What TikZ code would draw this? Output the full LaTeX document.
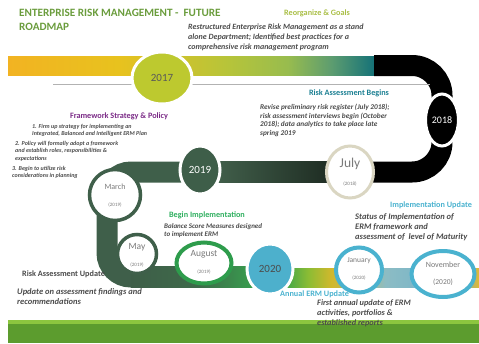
\documentclass[tikz,border=0pt]{standalone}
\usepackage{fontspec}
\setmainfont{Carlito}
\usetikzlibrary{shapes.geometric}
\definecolor{titlegreen}{HTML}{6A9C3C}
\definecolor{reorg}{HTML}{A9BE45}
\definecolor{rabteal}{HTML}{1B7F92}
\definecolor{fwpurple}{HTML}{7A2A86}
\definecolor{bigreen}{HTML}{2FAF5F}
\definecolor{ltblue}{HTML}{4AB2CF}
\definecolor{bodygray}{HTML}{4A4A4A}
\definecolor{dkgreen}{HTML}{3F5F4A}
\definecolor{c2017}{HTML}{BDC92F}
\definecolor{c2019}{HTML}{3E5E49}
\definecolor{c2020}{HTML}{4DB0CC}
\definecolor{julyring}{HTML}{DAD6C2}
\definecolor{augring}{HTML}{2E9C4C}
\definecolor{monthgray}{HTML}{7A7A7A}
\definecolor{tbA}{HTML}{F2B322}
\definecolor{tbB}{HTML}{E8C21E}
\definecolor{tbC}{HTML}{B6C43A}
\definecolor{tbD}{HTML}{98BC4E}
\definecolor{tbE}{HTML}{5C9C70}
\definecolor{tbF}{HTML}{127078}
\definecolor{mgA}{HTML}{466650}
\definecolor{mgB}{HTML}{1A261E}
\definecolor{blA}{HTML}{3E5E48}
\definecolor{blB}{HTML}{3E6A4A}
\definecolor{blC}{HTML}{38A04E}
\definecolor{brA}{HTML}{40A64A}
\definecolor{brB}{HTML}{8CBC34}
\definecolor{brC}{HTML}{D2B82C}
\definecolor{brD}{HTML}{8CBCC4}
\definecolor{brE}{HTML}{6AB0CC}
\definecolor{brF}{HTML}{E4B830}
\definecolor{barDark}{HTML}{5C9C2E}
\definecolor{barLight}{HTML}{8CC63F}
\pgfdeclarehorizontalshading{topband}{100bp}{color(0bp)=(tbA); color(25bp)=(tbA); color(40bp)=(tbB); color(55bp)=(tbC); color(63bp)=(tbD); color(69bp)=(tbE); color(75bp)=(tbF); color(100bp)=(tbF)}
\pgfdeclarehorizontalshading{botleft}{100bp}{color(0bp)=(blA); color(25bp)=(blA); color(52bp)=(blB); color(75bp)=(blC); color(100bp)=(blC)}
\pgfdeclarehorizontalshading{botright}{100bp}{color(0bp)=(brA); color(25bp)=(brA); color(31bp)=(brB); color(37bp)=(brC); color(51bp)=(brD); color(70bp)=(brE); color(75bp)=(brF); color(100bp)=(brF)}
\newcommand\fsz[2]{\fontsize{#1}{#2}\selectfont}
\tikzset{
  headtxt/.style={inner sep=0pt, font=\bfseries\fsz{8.2}{9.5}},
  bodytxt/.style={anchor=north west, inner sep=0pt, align=left, text=bodygray},
  yearc/.style={ellipse, draw=white, line width=3pt, inner sep=0pt},
  monthc/.style={ellipse, fill=white, inner sep=0pt},
  mtxt/.style={inner sep=0pt, text=monthgray},
}
\begin{document}
\begin{tikzpicture}[x=1pt,y=-1pt]
\useasboundingbox (0,0) rectangle (479,343);
% top band
\shade[shading=topband] (8,56) rectangle (376,75);
\draw[line width=21pt, black, rounded corners=30pt] (374,65.5) -- (442,65.5) -- (442,172) -- (340,172);
\draw[black!30, line width=0.8pt] (53,84) -- (430,84);
% middle dark green band
\draw[line width=21pt, dkgreen, rounded corners=24pt] (205,172) -- (107,172) -- (107,277) -- (200,277);
\shade[left color=mgA, right color=mgB] (200,161.5) rectangle (345,182.5);
\shade[shading=botleft] (131,266.5) rectangle (255,287.5);
\shade[shading=botright] (285,268.5) rectangle (479,287.5);
% bottom bar
\fill[barDark] (8,322) rectangle (479,343);
\fill[barLight] (8,320) rectangle (479,324);
% circles
\node[yearc, fill=c2017, minimum width=60pt, minimum height=52pt, text=black!65, font=\fsz{11}{12}] (y2017) at (162,78) {2017};
\node[yearc, fill=black, minimum width=33pt, minimum height=52pt, text=white, font=\fsz{10}{11}] (y2018) at (442,120) {2018};
\node[monthc, draw=julyring, line width=3pt, minimum width=47pt, minimum height=52pt] (jul) at (350,172) {};
\node[mtxt, font=\fsz{13.5}{14}] (julT) at (350,164) {July};
\node[mtxt, font=\fsz{5}{6}] (julY) at (350,184) {(2018)};
\node[yearc, fill=c2019, minimum width=40pt, minimum height=48pt, text=white, font=\fsz{11}{12}] (y2019) at (200,170) {2019};
\node[monthc, draw=dkgreen, line width=3.5pt, minimum width=51pt, minimum height=51pt] (mar) at (115,195) {};
\node[mtxt, font=\fsz{8}{9}] (marT) at (115,187) {March};
\node[mtxt, font=\fsz{5}{6}] (marY) at (115,205) {(2019)};
\node[monthc, draw=dkgreen, line width=3.5pt, minimum width=39pt, minimum height=39pt] (may) at (137,254) {};
\node[mtxt, font=\fsz{9.5}{10}] (mayT) at (137,247) {May};
\node[mtxt, font=\fsz{5}{6}] (mayY) at (137,265) {(2019)};
\node[monthc, draw=augring, line width=4pt, minimum width=55pt, minimum height=41pt] (aug) at (204,263) {};
\node[mtxt, font=\fsz{9.5}{10}] (augT) at (204,254) {August};
\node[mtxt, font=\fsz{5}{6}] (augY) at (204,272) {(2019)};
\node[yearc, fill=c2020, minimum width=46pt, minimum height=50pt, text=black!70, font=\fsz{11}{12}] (y2020) at (270,269) {2020};
\node[monthc, draw=ltblue, line width=4pt, minimum width=46pt, minimum height=45pt] (jan) at (359,270) {};
\node[mtxt, font=\fsz{7.5}{8}] (janT) at (359,261) {January};
\node[mtxt, font=\fsz{5}{6}] (janY) at (359,278) {(2020)};
\node[monthc, draw=ltblue, line width=4pt, minimum width=63pt, minimum height=46pt] (nov) at (443,274) {};
\node[mtxt, font=\fsz{8}{9}] (novT) at (443,265) {November};
\node[mtxt, font=\fsz{7.5}{8}] (novY) at (443,282) {(2020)};
% texts
\node[anchor=north west, inner sep=0pt, align=left, text=titlegreen, font=\bfseries\fsz{11.2}{13.5}] (title) at (19,9) {ENTERPRISE RISK MANAGEMENT -\ \ FUTURE\\ROADMAP};
\node[headtxt, text=reorg] (reorgH) at (317,13) {Reorganize \& Goals};
\node[bodytxt, font=\bfseries\itshape\fsz{8}{10}] (reorgB) at (188,24) {Restructured Enterprise Risk Management as a stand\\alone Department; Identified best practices for a\\comprehensive risk management program};
\node[headtxt, text=rabteal] (rabH) at (349,93) {Risk Assessment Begins};
\node[bodytxt, font=\bfseries\itshape\fsz{7.3}{8.6}] (rabB) at (260,104) {Revise preliminary risk register (July 2018);\\risk assessment interviews begin (October\\2018); data analytics to take place late\\spring 2019};
\node[headtxt, text=fwpurple] (fwH) at (119,116) {Framework Strategy \& Policy};
\node[bodytxt, font=\bfseries\itshape\fsz{6}{7.5}] (fw1) at (32,124) {1. Firm up strategy for implementing an\\Integrated, Balanced and Intelligent ERM Plan};
\node[bodytxt, font=\bfseries\itshape\fsz{6}{7.5}] (fw2) at (15,141) {2. Policy will formally adopt a framework\\and establish roles, responsibilities \&\\expectations};
\node[bodytxt, font=\bfseries\itshape\fsz{6}{7}] (fw3) at (12,166) {3. Begin to utilize risk\\considerations in planning};
\node[headtxt, text=bigreen] (biH) at (207,215) {Begin Implementation};
\node[bodytxt, font=\bfseries\itshape\fsz{7}{8.5}] (biB) at (164,223) {Balance Score Measures designed\\to implement ERM};
\node[headtxt, text=ltblue] (iuH) at (431,205) {Implementation Update};
\node[bodytxt, font=\bfseries\itshape\fsz{8.5}{10}] (iuB) at (355,213) {Status of Implementation of\\ERM framework and\\assessment of\ \ level of Maturity};
\node[headtxt, anchor=west, text=bodygray] (rauH) at (22,274) {Risk Assessment Update};
\node[bodytxt, font=\bfseries\itshape\fsz{8.5}{10.5}] (rauB) at (17,288) {Update on assessment findings and\\recommendations};
\node[headtxt, anchor=west, text=ltblue] (aeH) at (280,294) {Annual ERM Update};
\node[bodytxt, font=\bfseries\itshape\fsz{8.3}{10.3}] (aeB) at (317,299) {First annual update of ERM\\activities, portfolios \&\\established reports};
\end{tikzpicture}
\end{document}
